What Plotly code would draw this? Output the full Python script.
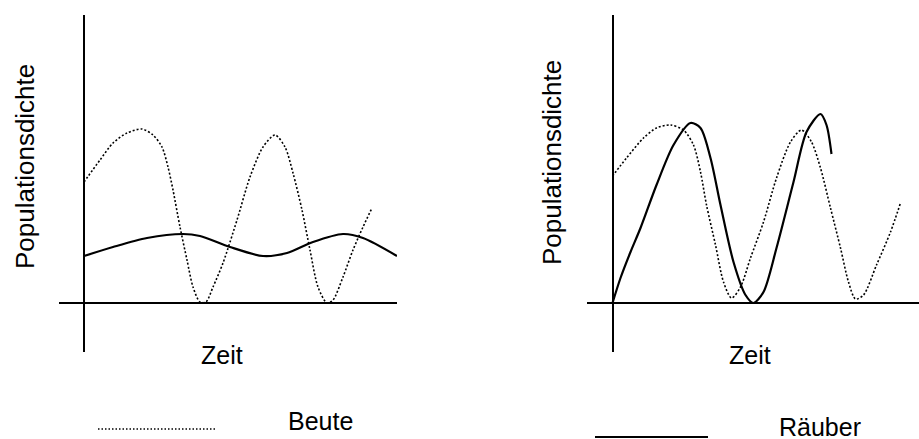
import plotly.graph_objects as go

# ---------------- data (arbitrary units) ----------------
# Left panel: Beute (prey, dotted) and Räuber (predator, solid)
left_prey_t = [0.0, 1.6, 2.9, 4.3, 5.8, 6.9, 7.8, 8.4, 8.9, 9.6, 10.3, 10.9, 11.6, 12.2,
               12.9, 13.9, 15.3, 16.6, 17.9, 19.1, 20.1, 20.9, 21.8, 22.6, 23.4, 24.3,
               24.9, 25.9, 26.9, 27.9, 28.8]
left_prey_d = [12.1, 14.3, 16.0, 17.0, 17.4, 16.8, 15.6, 13.6, 11.3, 7.6, 4.3, 1.6, 0.1, 0.1,
               1.6, 4.0, 8.3, 12.6, 15.6, 16.8, 15.6, 13.0, 9.3, 5.3, 1.6, 0.0,
               0.3, 2.6, 5.3, 7.6, 9.5]
left_pred_t = [0.0, 2.9, 6.3, 9.9, 11.6, 14.6, 17.9, 20.3, 22.9, 25.9, 27.9, 31.3]
left_pred_d = [4.7, 5.6, 6.5, 6.9, 6.7, 5.6, 4.7, 5.0, 6.1, 6.9, 6.5, 4.7]

# Right panel
right_prey_t = [0.0, 1.4, 3.1, 4.4, 5.8, 7.1, 8.1, 8.8, 9.4, 10.3, 11.1, 11.9, 12.8, 13.8,
                15.1, 16.4, 17.8, 18.9, 19.9, 20.8, 21.8, 22.8, 23.6, 24.3, 25.1, 26.4,
                27.8, 28.8]
right_prey_d = [12.7, 14.5, 16.5, 17.5, 17.8, 17.3, 15.8, 13.1, 9.8, 5.8, 2.1, 0.5, 1.6, 4.5,
                8.1, 12.5, 16.1, 17.3, 16.1, 13.5, 9.5, 5.5, 2.1, 0.4, 0.8, 3.8,
                7.1, 10.0]
right_pred_t = [0.0, 0.8, 1.8, 2.8, 4.4, 6.1, 7.8, 8.8, 9.8, 10.8, 12.1, 13.3, 14.1, 15.1,
                16.4, 18.1, 19.4, 20.8, 21.4, 21.9]
right_pred_d = [0.0, 2.5, 5.1, 7.5, 11.8, 15.8, 18.0, 17.5, 14.5, 9.8, 4.1, 0.8, 0.0, 1.1,
                5.5, 12.1, 17.1, 18.9, 17.8, 14.9]

y_label = "Populationsdichte"
x_label = "Zeit"
prey_label = "Beute"
pred_label = "Räuber"

# ---------------- figure ----------------
W, H = 919, 439
FONT = "Liberation Sans, Arial, Helvetica, sans-serif"

fig = go.Figure()

dot_style = dict(color="black", width=1.6, dash="2px,2px", shape="spline", smoothing=0.8)
solid_style = dict(color="black", width=2.2, shape="spline", smoothing=0.8)

fig.add_trace(go.Scatter(x=left_prey_t, y=left_prey_d, mode="lines", line=dot_style,
                         xaxis="x", yaxis="y", showlegend=False, hoverinfo="skip"))
fig.add_trace(go.Scatter(x=left_pred_t, y=left_pred_d, mode="lines", line=solid_style,
                         xaxis="x", yaxis="y", showlegend=False, hoverinfo="skip"))
fig.add_trace(go.Scatter(x=right_prey_t, y=right_prey_d, mode="lines", line=dot_style,
                         xaxis="x2", yaxis="y2", showlegend=False, hoverinfo="skip"))
fig.add_trace(go.Scatter(x=right_pred_t, y=right_pred_d, mode="lines", line=solid_style,
                         xaxis="x2", yaxis="y2", showlegend=False, hoverinfo="skip"))

axis_common = dict(showgrid=False, zeroline=True, zerolinecolor="black", zerolinewidth=2,
                   showticklabels=False, ticks="", showline=False, fixedrange=True)

ydom = [87 / H, 424 / H]
fig.update_layout(
    width=W, height=H, autosize=False,
    margin=dict(l=0, r=0, t=0, b=0),
    paper_bgcolor="white", plot_bgcolor="rgba(0,0,0,0)",
    font=dict(family=FONT, color="black"),
    xaxis=dict(domain=[59 / W, 397 / W], range=[-2.5, 31.3], anchor="y", **axis_common),
    yaxis=dict(domain=ydom, range=[-4.9, 28.8], anchor="x", **axis_common),
    xaxis2=dict(domain=[587 / W, 1.0], range=[-2.55, 30.65], anchor="y2", **axis_common),
    yaxis2=dict(domain=ydom, range=[-4.9, 28.8], anchor="x2", **axis_common),
)

def ann(text, px, py, size=25, angle=0):
    fig.add_annotation(text=text, x=px / W, y=1 - py / H, xref="paper", yref="paper",
                       xanchor="center", yanchor="middle", showarrow=False,
                       textangle=angle, font=dict(family=FONT, size=size, color="black"))

ann(y_label, 25, 167, size=26, angle=-90)
ann(y_label, 552, 163, size=26, angle=-90)
ann(x_label, 222, 355)
ann(x_label, 750, 355)
ann(prey_label, 320.5, 421)
ann(pred_label, 820, 427)

# legend sample lines
fig.add_shape(type="line", xref="paper", yref="paper",
              x0=98 / W, x1=215 / W, y0=1 - 429 / H, y1=1 - 429 / H,
              line=dict(color="black", width=1.5, dash="1.5px,2px"))
fig.add_shape(type="line", xref="paper", yref="paper",
              x0=595 / W, x1=708 / W, y0=1 - 437 / H, y1=1 - 437 / H,
              line=dict(color="black", width=2))

fig.write_html(
    "out.html",
    config={"displayModeBar": False},
    post_script="document.body.style.margin='0';document.body.style.overflow='hidden';",
)
